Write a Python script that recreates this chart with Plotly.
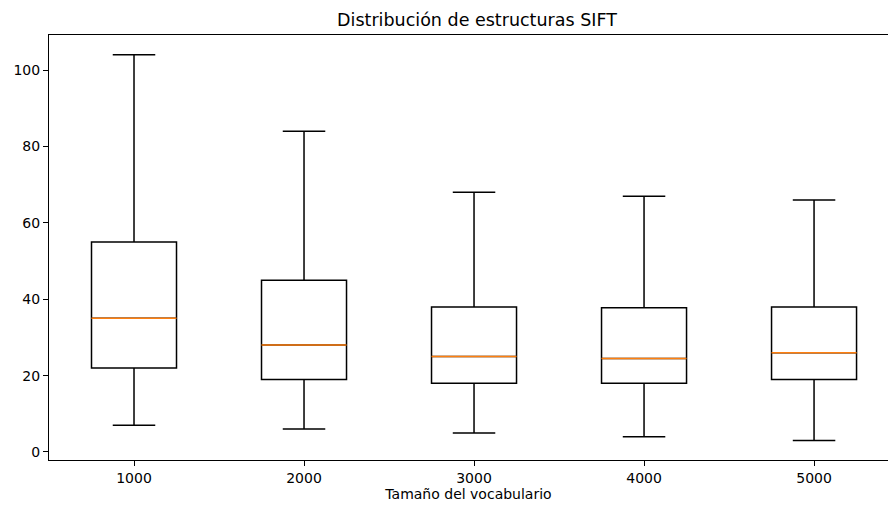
import plotly.graph_objects as go

categories = ["1000", "2000", "3000", "4000", "5000"]
q1 = [22, 19, 18, 18, 19]
median = [35, 28, 25, 24.5, 26]
q3 = [55, 45, 38, 37.8, 38]
lower = [7, 6, 5, 4, 3]
upper = [104, 84, 68, 67, 66]

fig = go.Figure()
fig.add_trace(go.Box(
    x=categories, q1=q1, median=median, q3=q3,
    lowerfence=lower, upperfence=upper,
    fillcolor="white", line=dict(color="black", width=1.5),
    width=0.5, whiskerwidth=0.5, boxpoints=False, hoverinfo="skip",
    showlegend=False,
))
# median lines in orange (degenerate boxes)
fig.add_trace(go.Box(
    x=categories, q1=median, median=median, q3=median,
    lowerfence=median, upperfence=median,
    fillcolor="rgba(0,0,0,0)", line=dict(color="#ff7f0e", width=1.5),
    width=0.5, whiskerwidth=0, boxpoints=False, hoverinfo="skip",
    showlegend=False,
))

font = "DejaVu Sans"
fig.update_layout(
    width=888, height=505, autosize=False,
    margin=dict(l=49, r=0, t=35, b=45),
    paper_bgcolor="white", plot_bgcolor="white",
    boxmode="overlay",
    title=dict(text="Distribución de estructuras SIFT", x=477 / 888, xanchor="center",
               y=1 - 20 / 505, yanchor="middle",
               font=dict(family=font, size=17.5, color="black")),
    font=dict(family=font, color="black"),
    xaxis=dict(
        type="category", range=[-0.5, 4.435],
        showline=True, linecolor="black", linewidth=1, mirror=True,
        ticks="outside", ticklen=5, tickwidth=1, tickcolor="black",
        showgrid=False, zeroline=False,
        tickfont=dict(family=font, size=14, color="black"),
        title=dict(text="Tamaño del vocabulario", standoff=4,
                   font=dict(family=font, size=14, color="black")),
    ),
    yaxis=dict(
        range=[-2.1, 109.2], tickvals=[0, 20, 40, 60, 80, 100],
        showline=True, linecolor="black", linewidth=1, mirror=False,
        ticks="outside", ticklen=5, tickwidth=1, tickcolor="black",
        showgrid=False, zeroline=False,
        tickfont=dict(family=font, size=14, color="black"),
    ),
)

fig.write_html("out.html", config={"displayModeBar": False},
               post_script="document.body.style.margin='0';document.body.style.overflow='hidden';")
